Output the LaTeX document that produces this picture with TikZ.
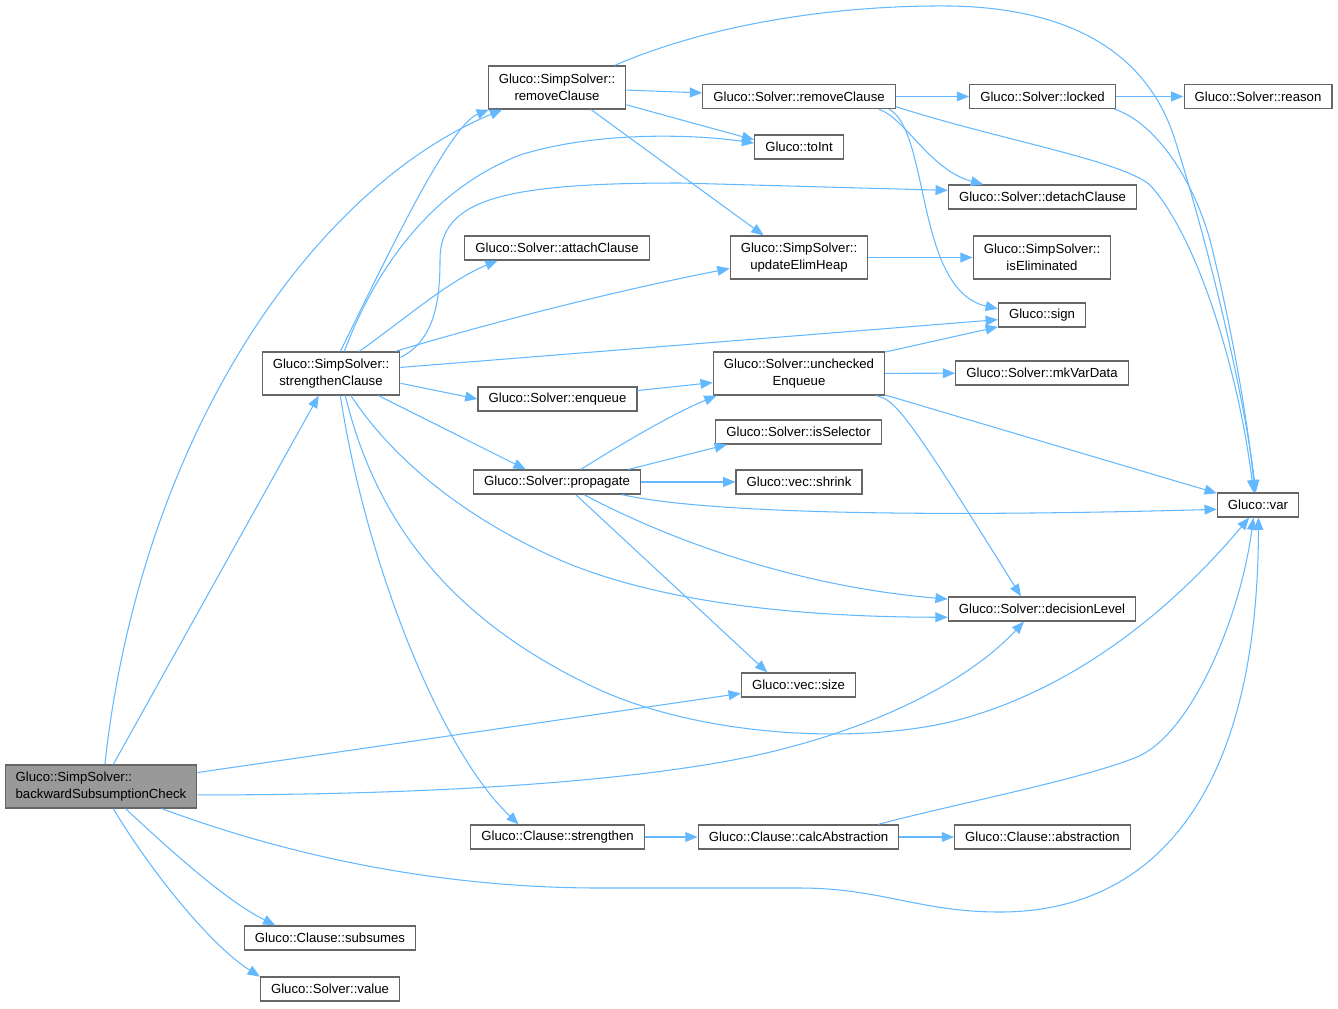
\documentclass[tikz,border=0pt]{standalone}
\usepackage{fontspec}
\setmainfont{Liberation Sans}
\usetikzlibrary{arrows.meta}
\definecolor{edgeblue}{HTML}{63B8FF}
\definecolor{boxline}{HTML}{666666}
\definecolor{current}{HTML}{999999}

\begin{document}
\begin{tikzpicture}[x=0.02cm, y=-0.02cm,
  func/.style={rectangle, draw=boxline, fill=white, line width=0.7pt,
               font=\fontsize{7.5}{9.7}\selectfont, align=center,
               inner xsep=6pt, inner ysep=2pt, minimum height=0.48cm},
  func2/.style={func, minimum height=0.86cm},
  link/.style={-{Triangle[length=7pt,width=5.6pt]}, draw=edgeblue, line width=0.6pt},
]
  \useasboundingbox (0,0) rectangle (1338,1008);

  \node[func2, fill=current, align=left] (bsc) at (101,786.5) {Gluco::SimpSolver::\\backwardSubsumptionCheck};
  \node[func2] (sstr)    at (331,373.5)  {Gluco::SimpSolver::\\strengthenClause};
  \node[func2] (srm)     at (557,87.5)   {Gluco::SimpSolver::\\removeClause};
  \node[func]  (rmc)     at (799,96.5)   {Gluco::Solver::removeClause};
  \node[func]  (locked)  at (1042.5,96.5) {Gluco::Solver::locked};
  \node[func]  (reason)  at (1258,96.5)  {Gluco::Solver::reason};
  \node[func]  (toint)   at (799,147)    {Gluco::toInt};
  \node[func]  (detach)  at (1042.5,197) {Gluco::Solver::detachClause};
  \node[func]  (attach)  at (557,248)    {Gluco::Solver::attachClause};
  \node[func2] (updheap) at (799,257.5)  {Gluco::SimpSolver::\\updateElimHeap};
  \node[func2] (iselim)  at (1042,257.5) {Gluco::SimpSolver::\\isEliminated};
  \node[func]  (sign)    at (1042,315)   {Gluco::sign};
  \node[func2] (unch)    at (799,373.5)  {Gluco::Solver::unchecked\\Enqueue};
  \node[func]  (mkvar)   at (1042,373)   {Gluco::Solver::mkVarData};
  \node[func]  (enq)     at (557.5,399)  {Gluco::Solver::enqueue};
  \node[func]  (issel)   at (798.5,432)  {Gluco::Solver::isSelector};
  \node[func]  (prop)    at (557,482)    {Gluco::Solver::propagate};
  \node[func]  (shrink)  at (799,482)    {Gluco::vec::shrink};
  \node[func]  (var)     at (1258,505)   {Gluco::var};
  \node[func]  (declev)  at (1042,609)   {Gluco::Solver::decisionLevel};
  \node[func]  (size)    at (798.5,685)  {Gluco::vec::size};
  \node[func]  (cstr)    at (557.5,837)  {Gluco::Clause::strengthen};
  \node[func]  (calc)    at (798.5,837)  {Gluco::Clause::calcAbstraction};
  \node[func]  (abst)    at (1042.5,837) {Gluco::Clause::abstraction};
  \node[func]  (subs)    at (330,938)    {Gluco::Clause::subsumes};
  \node[func]  (value)   at (330,989)    {Gluco::Solver::value};

  \draw[link] (bsc.80) .. controls (140,440) and (310,190) .. (srm.202);
  \draw[link] (bsc) -- (sstr);
  \draw[link] (bsc) -- (size);
  \draw[link] (bsc.-5) .. controls (400,795) and (600,785) .. (733,760)
              .. controls (850,738) and (960,690) .. (declev.215);
  \draw[link] (bsc.-20) .. controls (300,860) and (450,888) .. (600,888) -- (800,888)
              .. controls (880,888) and (920,912) .. (1000,912)
              .. controls (1150,912) and (1258,800) .. (var.272);
  \draw[link] (bsc.-42) .. controls (170,850) and (225,900) .. (subs.167);
  \draw[link] (bsc.-61) .. controls (150,870) and (210,945) .. (value.170);

  \draw[link] (sstr.67) .. controls (390,250) and (450,125) .. (srm.198);
  \draw[link] (sstr.59) .. controls (375,270) and (430,190) .. (520,155)
              .. controls (600,130) and (700,135) .. (toint.175);
  \draw[link] (sstr.13) .. controls (435,340) and (440,300) .. (440,260)
              .. controls (440,200) and (500,183) .. (680,183) -- (detach.176);
  \draw[link] (sstr.38) .. controls (410,315) and (450,280) .. (attach.192);
  \draw[link] (sstr.19) .. controls (500,320) and (620,290) .. (updheap.189);
  \draw[link] (sstr.5) -- (sign.186);
  \draw[link] (sstr.-8) -- (enq.west);
  \draw[link] (sstr.-25) -- (prop.158);
  \draw[link] (sstr.-48) .. controls (400,470) and (480,525) .. (560,560)
              .. controls (660,603) and (800,617) .. (declev.185);
  \draw[link] (sstr.-57) .. controls (380,540) and (470,630) .. (600,690)
              .. controls (700,735) and (850,745) .. (950,722)
              .. controls (1080,690) and (1180,600) .. (var.235);
  \draw[link] (sstr.-67) .. controls (365,560) and (440,750) .. (cstr.162);

  \draw[link] (srm) -- (rmc);
  \draw[link] (srm.-14) -- (toint.171);
  \draw[link] (srm.-33) -- (updheap.148);
  \draw[link] (srm.21) .. controls (720,20) and (850,5) .. (950,6)
              .. controls (1080,8) and (1150,60) .. (1175,140)
              .. controls (1210,250) and (1245,400) .. (var.100);

  \draw[link] (rmc) -- (locked);
  \draw[link] (rmc.-9) .. controls (905,118) and (930,170) .. (detach.168);
  \draw[link] (rmc.-8) .. controls (930,130) and (915,290) .. (sign.172);
  \draw[link] (rmc.-6) .. controls (1000,140) and (1120,160) .. (1150,185)
              .. controls (1200,240) and (1240,380) .. (var.110);

  \draw[link] (locked) -- (reason);
  \draw[link] (locked.-10) .. controls (1150,120) and (1190,170) .. (1210,240)
              .. controls (1230,320) and (1248,420) .. (var.105);

  \draw[link] (updheap) -- (iselim);

  \draw[link] (unch.14) -- (sign.195);
  \draw[link] (unch) -- (mkvar);
  \draw[link] (unch.-14.5) -- (var.164);
  \draw[link] (unch.-16) .. controls (895,400) and (905,410) .. (declev.149);

  \draw[link] (enq) -- (unch);

  \draw[link] (prop.28) .. controls (620,445) and (670,415) .. (unch.195);
  \draw[link] (prop.10.5) -- (issel.190);
  \draw[link] (prop) -- (shrink);
  \draw[link] (prop.-11) .. controls (700,512) and (900,518) .. (var.186);
  \draw[link] (prop.-25) .. controls (650,530) and (780,585) .. (declev.174);
  \draw[link] (prop.-34) -- (size.158);

  \draw[link] (cstr) -- (calc);
  \draw[link] (calc) -- (abst);
  \draw[link] (calc.9.5) .. controls (950,805) and (1080,780) .. (1137,757)
              .. controls (1190,735) and (1240,620) .. (var.250);
\end{tikzpicture}
\end{document}
